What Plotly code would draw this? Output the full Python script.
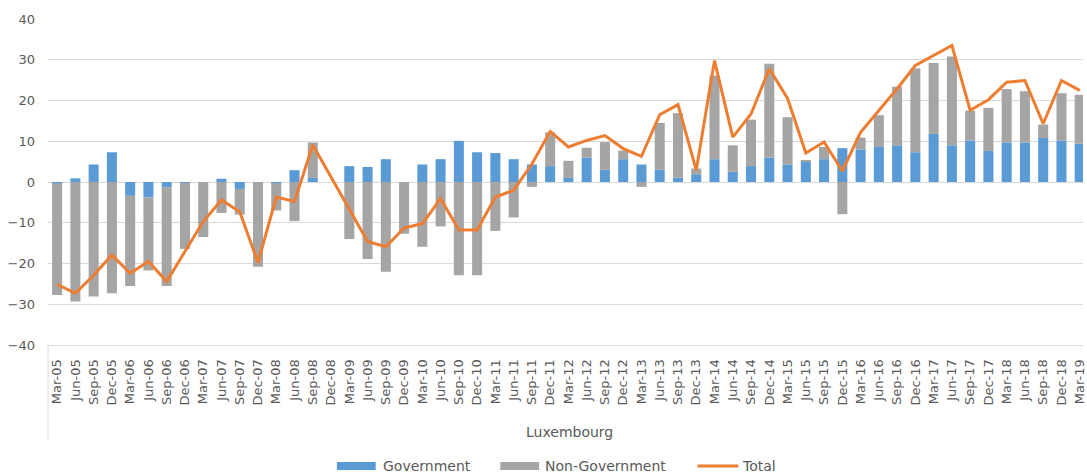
import plotly.graph_objects as go

quarters = [
    "Mar-05", "Jun-05", "Sep-05", "Dec-05", "Mar-06", "Jun-06", "Sep-06", "Dec-06",
    "Mar-07", "Jun-07", "Sep-07", "Dec-07", "Mar-08", "Jun-08", "Sep-08", "Dec-08",
    "Mar-09", "Jun-09", "Sep-09", "Dec-09", "Mar-10", "Jun-10", "Sep-10", "Dec-10",
    "Mar-11", "Jun-11", "Sep-11", "Dec-11", "Mar-12", "Jun-12", "Sep-12", "Dec-12",
    "Mar-13", "Jun-13", "Sep-13", "Dec-13", "Mar-14", "Jun-14", "Sep-14", "Dec-14",
    "Mar-15", "Jun-15", "Sep-15", "Dec-15", "Mar-16", "Jun-16", "Sep-16", "Dec-16",
    "Mar-17", "Jun-17", "Sep-17", "Dec-17", "Mar-18", "Jun-18", "Sep-18", "Dec-18",
    "Mar-19",
]

government = [
    -0.3, 0.9, 4.3, 7.3, -3.4, -3.8, -1.3, -0.2, 0.0, 0.8, -1.7, 0.0, -0.3, 2.9, 1.0, 0.0,
    3.9, 3.7, 5.6, 0.0, 4.3, 5.6, 10.1, 7.3, 7.1, 5.6, 4.3, 3.9, 1.0, 6.0, 3.0, 5.6,
    4.3, 3.0, 1.1, 1.9, 5.6, 2.5, 3.9, 6.0, 4.3, 5.1, 5.6, 8.3, 8.0, 8.6, 9.0, 7.3,
    11.8, 9.0, 10.2, 7.6, 9.7, 9.7, 10.8, 10.2, 9.4,
]

non_government = [
    -27.4, -29.3, -28.1, -27.3, -22.1, -17.9, -24.2, -16.2, -13.5, -7.6, -6.3, -20.8, -6.7, -9.6, 8.7, 0.0,
    -14.0, -18.9, -22.0, -12.7, -15.9, -10.9, -22.9, -22.9, -12.0, -8.7, -1.2, 8.3, 4.2, 2.4, 6.8, 2.1,
    -1.2, 11.5, 15.8, 1.4, 20.5, 6.5, 11.4, 23.0, 11.6, 0.3, 3.0, -7.9, 2.9, 7.8, 14.4, 20.6,
    17.4, 21.8, 7.3, 10.6, 13.1, 12.6, 3.3, 11.6, 12.0,
]

total = [
    -25.1, -27.3, -22.9, -17.9, -22.4, -19.5, -24.4, -17.0, -9.7, -4.4, -7.3, -19.8, -3.7, -4.8, 9.1, 1.2,
    -6.7, -14.6, -15.9, -11.3, -10.2, -4.1, -11.7, -11.8, -3.7, -2.0, 4.4, 12.4, 8.6, 10.2, 11.4, 8.2,
    6.3, 16.5, 19.0, 2.9, 29.8, 11.0, 16.7, 27.8, 20.5, 7.1, 9.8, 2.7, 12.2, 17.6, 22.9, 28.6,
    31.0, 33.5, 17.6, 20.2, 24.5, 24.9, 14.3, 24.9, 22.5,
]

BLUE = "#5B9BD5"
GREY = "#A5A5A5"
ORANGE = "#ED7D31"
TXT = "#595959"
GRID = "#D9D9D9"
FONT = "DejaVu Sans"

fig = go.Figure()
fig.add_trace(go.Bar(x=quarters, y=government, name="Government", marker_color=BLUE,
                     marker_line_width=0))
fig.add_trace(go.Bar(x=quarters, y=non_government, name="Non-Government", marker_color=GREY,
                     marker_line_width=0))
fig.add_trace(go.Scatter(x=quarters, y=total, name="Total", mode="lines",
                         line=dict(color=ORANGE, width=3)))

W, H = 1087, 475
L, R, T, B = 48, 0, 19, 130
pw = W - L - R
ph = H - T - B

fig.update_layout(
    width=W, height=H,
    margin=dict(l=L, r=R, t=T, b=B, pad=0),
    barmode="relative",
    bargap=0.45,
    plot_bgcolor="white",
    paper_bgcolor="white",
    showlegend=False,
    font=dict(family=FONT, size=13, color=TXT),
)

fig.update_xaxes(
    type="category",
    range=[-0.5, 56.18],
    tickangle=-90,
    tickfont=dict(family=FONT, size=13, color=TXT),
    showgrid=False,
    showline=True, linecolor=GRID, linewidth=1,
    ticks="",
    ticklabelstandoff=8,
)
fig.update_yaxes(
    range=[-40, 40],
    dtick=10,
    tickfont=dict(family=FONT, size=13, color=TXT),
    showgrid=True, gridcolor=GRID, gridwidth=1,
    zeroline=True, zerolinecolor=GRID, zerolinewidth=1,
    showline=False,
    ticks="",
    ticklabelstandoff=12,
)

# category-axis divider line at the left edge (multi-level axis box)
fig.add_shape(type="line", xref="paper", yref="paper",
              x0=0, x1=0, y0=0, y1=-(440 - 345) / ph,
              line=dict(color=GRID, width=1))

# outer category label
fig.add_annotation(text="Luxembourg", xref="paper", yref="paper",
                   x=(572 - L) / pw, y=-(432 - 345) / ph, showarrow=False,
                   xanchor="center", yanchor="middle",
                   font=dict(family=FONT, size=14, color=TXT))

# custom legend (Excel-style wide swatches)
def px_x(x):
    return (x - L) / pw

def px_y(y):
    return (H - B - y) / ph

legend_y = 466
fig.add_shape(type="rect", xref="paper", yref="paper",
              x0=px_x(338), x1=px_x(377), y0=px_y(legend_y + 4), y1=px_y(legend_y - 4),
              fillcolor=BLUE, line=dict(width=0))
fig.add_annotation(text="Government", xref="paper", yref="paper",
                   x=px_x(382), y=px_y(legend_y), xanchor="left", yanchor="middle",
                   showarrow=False, font=dict(family=FONT, size=14, color=TXT))
fig.add_shape(type="rect", xref="paper", yref="paper",
              x0=px_x(502), x1=px_x(541), y0=px_y(legend_y + 4), y1=px_y(legend_y - 4),
              fillcolor=GREY, line=dict(width=0))
fig.add_annotation(text="Non-Government", xref="paper", yref="paper",
                   x=px_x(545), y=px_y(legend_y), xanchor="left", yanchor="middle",
                   showarrow=False, font=dict(family=FONT, size=14, color=TXT))
fig.add_shape(type="line", xref="paper", yref="paper",
              x0=px_x(700), x1=px_x(741), y0=px_y(legend_y), y1=px_y(legend_y),
              line=dict(color=ORANGE, width=3))
fig.add_annotation(text="Total", xref="paper", yref="paper",
                   x=px_x(743), y=px_y(legend_y), xanchor="left", yanchor="middle",
                   showarrow=False, font=dict(family=FONT, size=14, color=TXT))

fig.write_html(
    "out.html",
    config={"displayModeBar": False},
    post_script="document.body.style.margin='0';document.body.style.overflow='hidden';",
)
